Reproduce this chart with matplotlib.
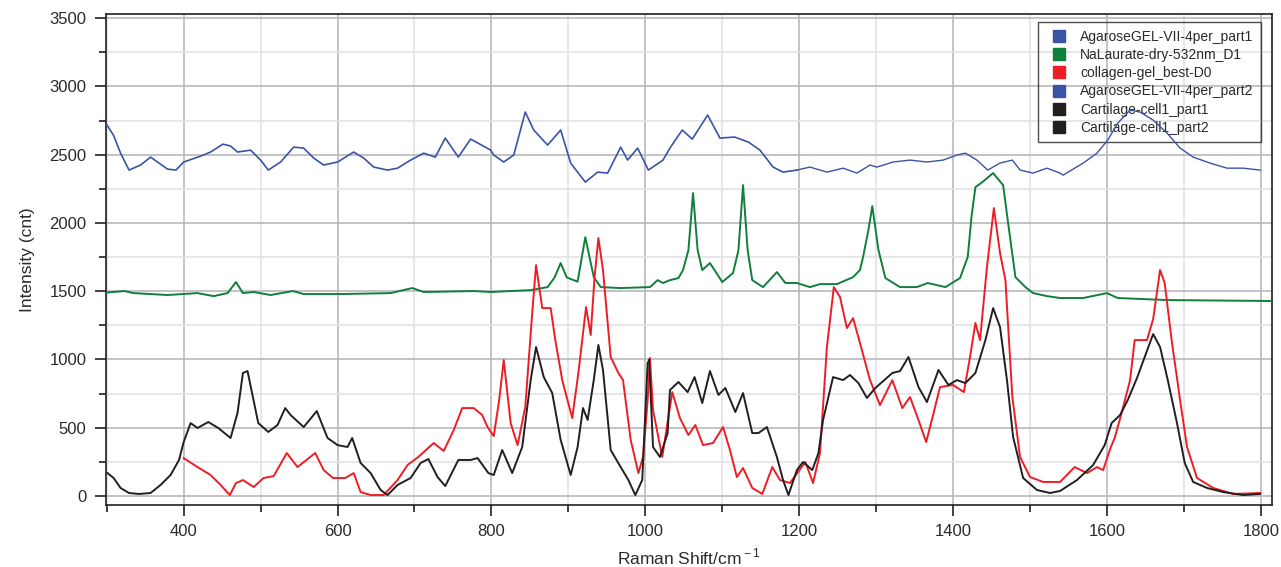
import matplotlib
matplotlib.use("Agg")
import matplotlib.pyplot as plt
from matplotlib.ticker import MultipleLocator
from matplotlib.lines import Line2D

plt.rcParams['font.family'] = ['Liberation Sans', 'DejaVu Sans']
plt.rcParams['mathtext.fontset'] = 'custom'
plt.rcParams['mathtext.rm'] = 'Liberation Sans'

# AgaroseGEL-VII-4per_part1 (300-1200)
agar1_x = [300, 309, 318, 329, 344, 357, 368, 379, 390, 400, 422, 435, 451, 461, 470, 487,
           500, 510, 526, 543, 556, 569, 582, 600, 621, 634, 647, 665, 678, 695, 712, 727,
           740, 757, 773, 799, 803, 816, 829, 844, 855, 873, 890, 903, 922, 938, 951, 968,
           977, 990, 1004, 1023, 1032, 1043, 1048, 1061, 1081, 1097, 1116, 1134, 1149, 1166,
           1179, 1197]
agar1_y = [2720, 2640, 2511, 2387, 2424, 2482, 2438, 2394, 2387, 2446, 2489, 2519, 2577, 2563,
           2519, 2533, 2460, 2387, 2446, 2555, 2548, 2475, 2424, 2446, 2519, 2475, 2409, 2387,
           2401, 2460, 2511, 2482, 2621, 2482, 2614, 2533, 2497, 2446, 2497, 2812, 2680, 2570,
           2680, 2438, 2299, 2372, 2365, 2555, 2460, 2548, 2387, 2460, 2548, 2640, 2680, 2614,
           2790, 2621, 2629, 2592, 2533, 2409, 2372, 2387]

# AgaroseGEL-VII-4per_part2 (1200-1800)
agar2_x = [1197, 1214, 1236, 1257, 1275, 1292, 1301, 1322, 1344, 1366, 1387, 1405, 1416, 1431,
           1445, 1461, 1477, 1487, 1504, 1522, 1539, 1543, 1569, 1587, 1601, 1614, 1630, 1643,
           1660, 1678, 1695, 1712, 1734, 1756, 1777, 1799]
agar2_y = [2387, 2409, 2372, 2401, 2365, 2424, 2409, 2446, 2460, 2446, 2460, 2497, 2511, 2460,
           2387, 2438, 2460, 2387, 2365, 2401, 2365, 2350, 2438, 2511, 2607, 2731, 2826, 2812,
           2753, 2658, 2548, 2482, 2438, 2401, 2401, 2387]

# NaLaurate-dry-532nm_D1
laur_x = [300, 323, 335, 379, 418, 439, 457, 468, 477, 491, 513, 542, 556, 604, 669, 697, 712,
          777, 799, 851, 873, 882, 890, 898, 912, 922, 933, 942, 968, 1006, 1016, 1023, 1032,
          1043, 1049, 1056, 1062, 1068, 1074, 1084, 1100, 1114, 1121, 1127, 1133, 1139, 1153,
          1171, 1182, 1197, 1214, 1227, 1249, 1270, 1279, 1283, 1290, 1295, 1303, 1312, 1331,
          1353, 1367, 1390, 1409, 1419, 1424, 1429, 1438, 1452, 1465, 1471, 1481, 1494, 1504,
          1522, 1539, 1569, 1600, 1614, 1678, 1817]
laur_y = [1490, 1501, 1486, 1472, 1486, 1464, 1486, 1567, 1486, 1494, 1472, 1501, 1479, 1479,
          1486, 1523, 1494, 1501, 1494, 1508, 1530, 1600, 1706, 1600, 1570, 1896, 1603, 1530,
          1523, 1530, 1581, 1560, 1581, 1596, 1655, 1800, 2218, 1800, 1655, 1706, 1567, 1633,
          1800, 2277, 1800, 1581, 1530, 1640, 1560, 1560, 1530, 1552, 1552, 1603, 1655, 1750,
          1950, 2123, 1801, 1596, 1530, 1530, 1560, 1530, 1596, 1750, 2050, 2262, 2299, 2365,
          2277, 2021, 1603, 1530, 1486, 1464, 1450, 1450, 1486, 1450, 1435, 1428]

# collagen-gel_best-D0
coll_x = [400, 418, 435, 448, 460, 468, 477, 491, 504, 517, 534, 548, 571, 582, 594, 610, 621,
          630, 643, 660, 678, 691, 705, 725, 738, 751, 762, 777, 788, 795, 803, 810, 816, 825,
          834, 844, 853, 858, 866, 877, 883, 892, 905, 913, 923, 929, 934, 939, 945, 955, 965,
          971, 981, 991, 997, 1003, 1006, 1010, 1022, 1035, 1045, 1056, 1065, 1075, 1088, 1101,
          1110, 1119, 1127, 1139, 1152, 1165, 1175, 1188, 1208, 1218, 1227, 1236, 1245, 1253,
          1262, 1270, 1279, 1292, 1305, 1321, 1334, 1344, 1355, 1365, 1374, 1383, 1400, 1414,
          1422, 1429, 1435, 1444, 1453, 1461, 1468, 1477, 1487, 1500, 1517, 1539, 1558, 1574,
          1587, 1595, 1605, 1610, 1619, 1630, 1636, 1652, 1660, 1669, 1675, 1684, 1695, 1704,
          1717, 1738, 1764, 1799]
coll_y = [278, 212, 154, 81, 7, 95, 117, 66, 132, 146, 315, 212, 315, 190, 132, 132, 168, 29,
          7, 7, 117, 227, 286, 388, 330, 483, 644, 644, 593, 505, 439, 700, 996, 534, 373, 652,
          1340, 1691, 1376, 1376, 1142, 849, 571, 901, 1384, 1179, 1600, 1889, 1655, 1018, 901,
          849, 410, 168, 286, 700, 1011, 630, 286, 761, 571, 447, 520, 373, 388, 505, 337, 139,
          205, 59, 15, 212, 117, 95, 249, 95, 315, 1091, 1530, 1457, 1230, 1303, 1120, 849, 666,
          849, 644, 725, 557, 395, 593, 798, 813, 761, 1018, 1267, 1142, 1677, 2109, 1779, 1581,
          725, 286, 139, 103, 103, 212, 168, 212, 190, 359, 425, 608, 849, 1142, 1142, 1296,
          1655, 1560, 1142, 703, 359, 132, 59, 15, 22]

# Cartilage-cell1_part1 (300-1005)
cart1_x = [301, 309, 318, 329, 342, 357, 370, 383, 394, 400, 409, 418, 432, 445, 461, 470, 477,
           483, 490, 497, 510, 522, 532, 539, 556, 573, 587, 600, 613, 619, 630, 643, 656, 665,
           678, 695, 708, 718, 730, 740, 757, 773, 782, 796, 803, 814, 827, 840, 851, 858, 868,
           879, 890, 903, 912, 919, 925, 933, 939, 945, 955, 968, 978, 987, 996, 1003, 1005]
cart1_y = [168, 132, 59, 22, 15, 22, 81, 154, 264, 395, 534, 498, 542, 498, 425, 608, 901, 915,
           725, 534, 469, 520, 644, 593, 505, 622, 425, 373, 359, 425, 242, 168, 44, 7, 81, 132,
           242, 271, 139, 73, 264, 264, 278, 168, 154, 337, 168, 359, 849, 1091, 871, 754, 410,
           154, 359, 644, 557, 849, 1106, 923, 337, 212, 117, 7, 117, 974, 996]

# Cartilage-cell1_part2 (1005-1800)
cart2_x = [1005, 1010, 1019, 1029, 1032, 1043, 1055, 1064, 1074, 1084, 1095, 1104, 1117, 1127,
           1139, 1147, 1158, 1171, 1179, 1186, 1197, 1205, 1217, 1225, 1231, 1244, 1257, 1266,
           1277, 1288, 1299, 1321, 1331, 1342, 1355, 1366, 1381, 1394, 1405, 1416, 1429, 1442,
           1452, 1461, 1470, 1478, 1491, 1509, 1526, 1539, 1561, 1582, 1597, 1606, 1617, 1627,
           1639, 1649, 1660, 1669, 1679, 1691, 1701, 1712, 1730, 1751, 1777, 1799]
cart2_y = [996, 359, 286, 461, 776, 835, 761, 871, 681, 915, 740, 791, 615, 754, 461, 461, 505,
           286, 117, 7, 190, 249, 190, 315, 557, 871, 849, 886, 827, 718, 791, 901, 915, 1018,
           798, 688, 923, 813, 849, 827, 901, 1142, 1376, 1237, 849, 432, 132, 44, 22, 37, 117,
           227, 373, 534, 593, 703, 864, 1018, 1186, 1091, 849, 534, 242, 103, 59, 29, 7, 15]

blue = '#3a53a4'
green = '#0f7f3b'
red = '#ee1d25'
black = '#231f20'

fig = plt.figure(figsize=(12.81, 5.67), dpi=100)
ax = fig.add_axes([0.0827, 0.1093, 0.910, 0.866])

ax.plot(agar1_x, agar1_y, color=blue, lw=1.2, zorder=3)
ax.plot(laur_x, laur_y, color=green, lw=1.4, zorder=3)
ax.plot(coll_x, coll_y, color=red, lw=1.4, zorder=3)
ax.plot(agar2_x, agar2_y, color=blue, lw=1.0, zorder=3)
ax.plot(cart1_x, cart1_y, color=black, lw=1.4, zorder=3)
ax.plot(cart2_x, cart2_y, color=black, lw=1.4, zorder=3)

ax.set_xlim(299, 1814)
ax.set_ylim(-66, 3530)
ax.xaxis.set_major_locator(MultipleLocator(200))
ax.xaxis.set_minor_locator(MultipleLocator(100))
ax.yaxis.set_major_locator(MultipleLocator(500))
ax.yaxis.set_minor_locator(MultipleLocator(250))
ax.grid(which='major', color='#b9b9bd', lw=1.2)
ax.grid(which='minor', color='#e3e3e5', lw=1.2)
ax.set_axisbelow(True)

for s in ax.spines.values():
    s.set_color(black)
    s.set_linewidth(1.2)
ax.tick_params(which='major', direction='out', length=8, width=1.2, color=black,
               labelsize=12, labelcolor='#2a2a2a', pad=6)
ax.tick_params(which='minor', direction='out', length=5, width=1.2, color=black)

ax.set_xlabel(r'Raman Shift/cm$^{\rm -1}$', fontsize=12.5, color='#2a2a2a', labelpad=5)
ax.set_ylabel('Intensity (cnt)', fontsize=12.5, color='#2a2a2a', labelpad=10)

handles = [Line2D([], [], ls='none', marker='s', ms=8, color=c)
           for c in [blue, green, red, blue, black, black]]
labels = ['AgaroseGEL-VII-4per_part1', 'NaLaurate-dry-532nm_D1', 'collagen-gel_best-D0',
          'AgaroseGEL-VII-4per_part2', 'Cartilage-cell1_part1', 'Cartilage-cell1_part2']
leg = ax.legend(handles, labels, loc='upper right', bbox_to_anchor=(0.991, 0.983),
                fontsize=10, frameon=True, fancybox=False, borderpad=0.55,
                labelspacing=0.3, handletextpad=0.5, borderaxespad=0)
leg.get_frame().set_edgecolor(black)
leg.get_frame().set_linewidth(1.0)
leg.get_frame().set_facecolor('none')
leg.set_zorder(2.5)
for t in leg.get_texts():
    t.set_color('#2a2a2a')

fig.savefig('out.png', dpi=100)
